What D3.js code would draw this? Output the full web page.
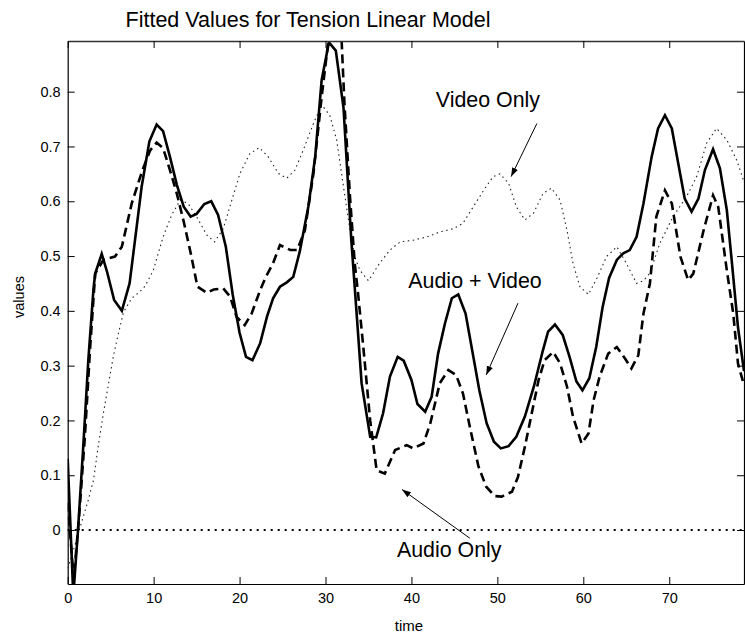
<!DOCTYPE html>
<html>
<head>
<meta charset="utf-8">
<script src="https://cdn.jsdelivr.net/npm/d3@7"></script>
<style>
  body { margin: 0; background: #fff; }
  svg text { font-family: "Liberation Sans", Arial, Helvetica, sans-serif; fill: #000; }
</style>
</head>
<body>
<div class="canvas"></div>
<script>
// data: [time, value]
const audioVideo = [
  [0,0.13],[0.65,-0.12],[1.2,0.0],[1.8,0.15],[2.4,0.31],[3.0,0.44],[3.2,0.468],[3.96,0.504],
  [4.6,0.47],[5.4,0.42],[6.3,0.40],[7.2,0.45],[8.0,0.55],[8.6,0.626],[9.5,0.709],[10.35,0.74],
  [11.1,0.728],[11.9,0.681],[12.7,0.63],[13.5,0.59],[14.3,0.572],[15.0,0.577],[15.9,0.595],
  [16.7,0.60],[17.5,0.575],[18.4,0.517],[19.2,0.43],[20.0,0.36],[20.75,0.316],[21.5,0.31],
  [22.4,0.341],[23.2,0.39],[23.9,0.423],[24.7,0.444],[25.5,0.452],[26.25,0.462],[27.0,0.508],
  [28.0,0.59],[28.8,0.681],[29.55,0.821],[30.4,0.89],[31.2,0.875],[32.1,0.77],[33.0,0.53],
  [33.6,0.40],[34.2,0.268],[35.2,0.17],[35.9,0.169],[36.7,0.213],[37.5,0.28],[38.4,0.316],
  [39.1,0.309],[40.0,0.274],[40.7,0.23],[41.6,0.216],[42.35,0.243],[43.1,0.322],[43.9,0.377],
  [44.7,0.423],[45.45,0.43],[46.3,0.395],[47.0,0.334],[47.9,0.255],[48.75,0.195],[49.6,0.161],
  [50.4,0.149],[51.3,0.153],[52.2,0.17],[53.2,0.207],[54.25,0.262],[55.3,0.328],[55.9,0.362],
  [56.7,0.375],[57.6,0.356],[58.4,0.316],[59.2,0.271],[59.9,0.255],[60.7,0.277],[61.5,0.334],
  [62.25,0.407],[63.0,0.46],[63.9,0.493],[64.65,0.505],[65.4,0.511],[66.2,0.535],[67.0,0.596],
  [67.95,0.681],[68.7,0.733],[69.5,0.757],[70.3,0.733],[71.05,0.669],[71.8,0.605],[72.6,0.581],
  [73.4,0.605],[74.15,0.657],[75.1,0.695],[75.9,0.66],[76.7,0.584],[77.3,0.487],[78.0,0.37],
  [78.7,0.29]
];

const audioOnly = [
  [0,0.05],[0.7,-0.09],[1.3,0.02],[2.0,0.17],[2.6,0.33],[3.2,0.468],[4.15,0.493],[5.5,0.499],
  [6.3,0.517],[7.45,0.596],[8.7,0.657],[9.6,0.693],[10.35,0.707],[11.1,0.697],[11.9,0.657],
  [12.7,0.614],[13.5,0.563],[14.4,0.499],[15.1,0.444],[16.2,0.433],[17.0,0.439],[18.1,0.441],
  [18.9,0.426],[19.65,0.389],[20.6,0.374],[21.4,0.395],[22.4,0.438],[23.0,0.46],[23.9,0.487],
  [24.7,0.52],[25.9,0.511],[26.7,0.511],[27.6,0.547],[28.6,0.651],[29.55,0.79],[30.3,0.888],
  [31.0,0.93],[31.8,0.92],[32.2,0.78],[32.85,0.608],[33.4,0.487],[33.8,0.43],[34.4,0.334],
  [35.2,0.20],[35.95,0.109],[36.9,0.103],[38.1,0.146],[39.45,0.155],[40.2,0.149],[41.4,0.158],
  [42.2,0.195],[43.3,0.268],[44.3,0.292],[45.2,0.283],[46.0,0.249],[46.8,0.188],[47.8,0.116],
  [48.7,0.079],[49.7,0.062],[50.5,0.061],[51.7,0.07],[52.4,0.097],[53.2,0.152],[54.0,0.213],
  [54.8,0.274],[55.5,0.31],[56.5,0.325],[57.3,0.304],[58.1,0.262],[58.8,0.207],[59.8,0.158],
  [60.6,0.176],[61.2,0.237],[61.9,0.28],[62.9,0.322],[63.9,0.334],[64.85,0.313],[65.6,0.295],
  [66.4,0.319],[67.0,0.395],[67.75,0.45],[68.5,0.572],[69.5,0.62],[70.3,0.596],[71.3,0.499],
  [72.2,0.456],[72.8,0.468],[74.0,0.547],[75.1,0.611],[75.7,0.59],[76.7,0.474],[77.45,0.395],
  [78.0,0.304],[78.6,0.27]
];

const videoOnly = [
  [0,-0.07],[0.8,-0.03],[1.4,0.003],[2.4,0.055],[3.0,0.091],[3.6,0.158],[4.15,0.213],[4.7,0.262],
  [5.3,0.316],[5.9,0.359],[6.5,0.398],[7.45,0.423],[8.4,0.435],[9.0,0.445],[9.96,0.474],
  [11.1,0.535],[12.1,0.575],[13.1,0.602],[14.0,0.596],[15.0,0.572],[16.2,0.538],[17.1,0.526],
  [18.1,0.55],[19.1,0.602],[20.05,0.651],[21.2,0.687],[22.3,0.698],[23.35,0.681],[24.5,0.651],
  [25.5,0.642],[26.45,0.657],[27.4,0.693],[28.6,0.742],[29.55,0.776],[30.5,0.757],[31.3,0.712],
  [32.1,0.626],[32.85,0.547],[33.4,0.499],[34.0,0.474],[35.0,0.455],[36.3,0.487],[37.5,0.511],
  [38.7,0.526],[40.2,0.529],[41.8,0.535],[43.3,0.544],[44.9,0.55],[46.0,0.56],[47.2,0.59],
  [48.4,0.62],[49.5,0.645],[50.3,0.65],[51.3,0.633],[52.2,0.59],[53.2,0.566],[54.2,0.578],
  [55.3,0.614],[56.3,0.624],[57.3,0.602],[58.1,0.547],[58.8,0.487],[59.6,0.444],[60.6,0.43],
  [61.6,0.46],[62.7,0.499],[63.9,0.517],[65.0,0.487],[66.2,0.45],[67.0,0.455],[67.75,0.469],
  [68.9,0.523],[70.45,0.572],[72.0,0.608],[73.2,0.645],[74.35,0.706],[75.5,0.733],[76.7,0.712],
  [77.85,0.675],[78.6,0.64]
];

const xTicks = [0, 10, 20, 30, 40, 50, 60, 70];
const yTicks = [0, 0.1, 0.2, 0.3, 0.4, 0.5, 0.6, 0.7, 0.8];

// annotations: label, text position (data), arrow from -> to (data)
const notes = [
  { label: 'Video Only',    tx: 48.9, ty: 0.772, from: [54.6, 0.742], to: [51.6, 0.645] },
  { label: 'Audio + Video', tx: 47.4, ty: 0.442, from: [52.4, 0.414], to: [48.7, 0.283] },
  { label: 'Audio Only',    tx: 44.4, ty: -0.05, from: [46.8, -0.015], to: [38.9, 0.074] }
];

const WIDTH = 745, HEIGHT = 636;
const MARGIN = { left: 67.7, right: 1, top: 41, bottom: 52 };

const svg = d3.select('.canvas').append('svg')
  .attr('width', WIDTH)
  .attr('height', HEIGHT);

const x = d3.scaleLinear().domain([0, 78.7]).range([MARGIN.left, WIDTH - MARGIN.right]);
const y = d3.scaleLinear().domain([-0.0985, 0.8925]).range([HEIGHT - MARGIN.bottom, MARGIN.top]);

svg.append('defs').append('clipPath').attr('id', 'plot-clip')
  .append('rect')
  .attr('x', x.range()[0]).attr('y', y.range()[1])
  .attr('width', x.range()[1] - x.range()[0])
  .attr('height', y.range()[0] - y.range()[1]);

svg.select('defs').append('marker')
  .attr('id', 'arrow')
  .attr('viewBox', '0 0 10 10')
  .attr('refX', 10).attr('refY', 5)
  .attr('markerWidth', 9).attr('markerHeight', 9)
  .attr('markerUnits', 'userSpaceOnUse')
  .attr('orient', 'auto')
  .append('path')
  .attr('d', 'M0,1.5 L10,5 L0,8.5 Z')
  .attr('fill', '#000');

// zero reference line
svg.append('line')
  .attr('x1', x.range()[0]).attr('x2', x.range()[1])
  .attr('y1', y(0)).attr('y2', y(0))
  .attr('stroke', '#000')
  .attr('stroke-width', 2)
  .attr('stroke-dasharray', '2,5');

const line = d3.line()
  .x(d => x(d[0]))
  .y(d => y(d[1]));

const lines = svg.append('g').attr('clip-path', 'url(#plot-clip)');

lines.append('path')
  .datum(videoOnly)
  .attr('d', line)
  .attr('fill', 'none')
  .attr('stroke', '#222')
  .attr('stroke-width', 1.1)
  .attr('stroke-dasharray', '1.5,3.5');

lines.append('path')
  .datum(audioOnly)
  .attr('d', line)
  .attr('fill', 'none')
  .attr('stroke', '#000')
  .attr('stroke-width', 2.6)
  .attr('stroke-dasharray', '9,5');

lines.append('path')
  .datum(audioVideo)
  .attr('d', line)
  .attr('fill', 'none')
  .attr('stroke', '#000')
  .attr('stroke-width', 2.6)
  .attr('stroke-linejoin', 'miter');

//axes
const axisStyle = g => {
  g.select('.domain').attr('stroke', '#000').attr('stroke-width', 1.2);
  g.selectAll('.tick line').attr('stroke', '#000');
  g.selectAll('.tick text').attr('font-size', 14.5).attr('fill', '#000');
};

svg.append('g')
  .attr('transform', `translate(0, ${y.range()[0]})`)
  .call(d3.axisBottom(x).tickValues(xTicks).tickSizeInner(-7).tickSizeOuter(0).tickPadding(9))
  .call(axisStyle);

svg.append('g')
  .attr('transform', `translate(0, ${y.range()[1]})`)
  .call(d3.axisTop(x).tickValues(xTicks).tickSizeInner(-7).tickSizeOuter(0).tickFormat(''))
  .call(axisStyle)
  .select('.domain').attr('stroke', '#333').attr('stroke-width', 1.6);

svg.append('g')
  .attr('transform', `translate(${x.range()[0]}, 0)`)
  .call(d3.axisLeft(y).tickValues(yTicks).tickSizeInner(-7).tickSizeOuter(0).tickPadding(7)
    .tickFormat(d => d === 0 ? '0' : d3.format('.1f')(d)))
  .call(axisStyle);

svg.append('g')
  .attr('transform', `translate(${x.range()[1]}, 0)`)
  .call(d3.axisRight(y).tickValues(yTicks).tickSizeInner(-7).tickSizeOuter(0).tickFormat(''))
  .call(axisStyle);

// titles
svg.append('text')
  .attr('x', 308).attr('y', 27)
  .attr('text-anchor', 'middle')
  .attr('font-size', 21.5)
  .text('Fitted Values for Tension Linear Model');

svg.append('text')
  .attr('x', 409).attr('y', 631)
  .attr('text-anchor', 'middle')
  .attr('font-size', 15)
  .text('time');

svg.append('text')
  .attr('transform', `translate(24, 297) rotate(-90)`)
  .attr('text-anchor', 'middle')
  .attr('font-size', 14.5)
  .text('values');

// annotations
const ann = svg.append('g');
notes.forEach(n => {
  ann.append('text')
    .attr('x', x(n.tx)).attr('y', y(n.ty))
    .attr('text-anchor', 'middle')
    .attr('font-size', 21.4)
    .text(n.label);
  ann.append('line')
    .attr('x1', x(n.from[0])).attr('y1', y(n.from[1]))
    .attr('x2', x(n.to[0])).attr('y2', y(n.to[1]))
    .attr('stroke', '#000')
    .attr('stroke-width', 1)
    .attr('marker-end', 'url(#arrow)');
});
</script>
</body>
</html>
